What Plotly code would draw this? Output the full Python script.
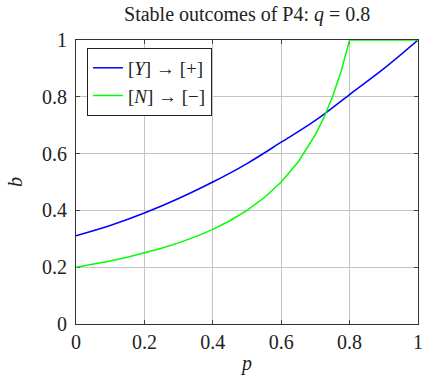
import plotly.graph_objects as go

# Data
p_yes = [0.0, 0.1, 0.2, 0.3, 0.4, 0.5, 0.6, 0.7, 0.8, 0.9, 1.0]
b_yes = [0.311, 0.347, 0.391, 0.442, 0.500, 0.565, 0.640, 0.717, 0.808, 0.899, 1.0]

p_no = [0.0, 0.05, 0.1, 0.15, 0.2, 0.25, 0.3, 0.35, 0.4, 0.45, 0.5, 0.55, 0.6,
        0.65, 0.7, 0.725, 0.75, 0.775, 0.8, 0.9, 1.0]
b_no = [0.2, 0.2105, 0.2222, 0.2353, 0.25, 0.2667, 0.2857, 0.3077, 0.3333, 0.3636,
        0.4, 0.4444, 0.5, 0.5714, 0.6667, 0.7273, 0.8, 0.8889, 1.0, 1.0, 1.0]

tick_vals = [0, 0.2, 0.4, 0.6, 0.8, 1]
tick_text = ["0", "0.2", "0.4", "0.6", "0.8", "1"]

FONT = "'Liberation Serif', 'DejaVu Serif', serif"
TXT = "#222222"

fig = go.Figure()
fig.add_trace(go.Scatter(x=p_yes, y=b_yes, mode="lines", line=dict(color="#0000ff", width=1.5, shape="spline"),
                         name="[<i>Y</i>] \u2192 [+]"))
fig.add_trace(go.Scatter(x=p_no, y=b_no, mode="lines", line=dict(color="#00ff00", width=1.5),
                         name="[<i>N</i>] \u2192 [\u2212]"))

axis_common = dict(
    range=[0, 1], tickvals=tick_vals, ticktext=tick_text,
    showgrid=True, gridcolor="#c4c4c4", gridwidth=1,
    showline=True, linecolor="#333333", linewidth=1, mirror="allticks",
    ticks="inside", ticklen=4, tickcolor="#444444", tickwidth=1,
    zeroline=False, layer="below traces", automargin=False,
    tickfont=dict(family=FONT, size=20, color=TXT),
)

fig.update_layout(
    width=424, height=375,
    margin=dict(l=76, r=6, t=40, b=51),
    paper_bgcolor="white", plot_bgcolor="white",
    title=dict(text="Stable outcomes of P4: <i>q</i> = 0.8", x=0.583, xanchor="center",
               y=0.962, yanchor="middle", font=dict(family=FONT, size=20, color=TXT)),
    xaxis=dict(**axis_common, title=dict(text="<i>p</i>", font=dict(family=FONT, size=20, color=TXT), standoff=4)),
    yaxis=dict(**axis_common, ticklabelstandoff=4,
               title=dict(text="<i>b</i>", font=dict(family=FONT, size=20, color=TXT), standoff=14)),
    legend=dict(x=0.032, y=0.972, xanchor="left", yanchor="top", bgcolor="white",
                bordercolor="#222222", borderwidth=1,
                font=dict(family=FONT, size=19, color=TXT),
                tracegroupgap=0, itemwidth=30),
    showlegend=True,
)

fig.write_html("out.html", config={"displayModeBar": False},
               post_script="document.body.style.margin='0';document.body.style.padding='0';")
